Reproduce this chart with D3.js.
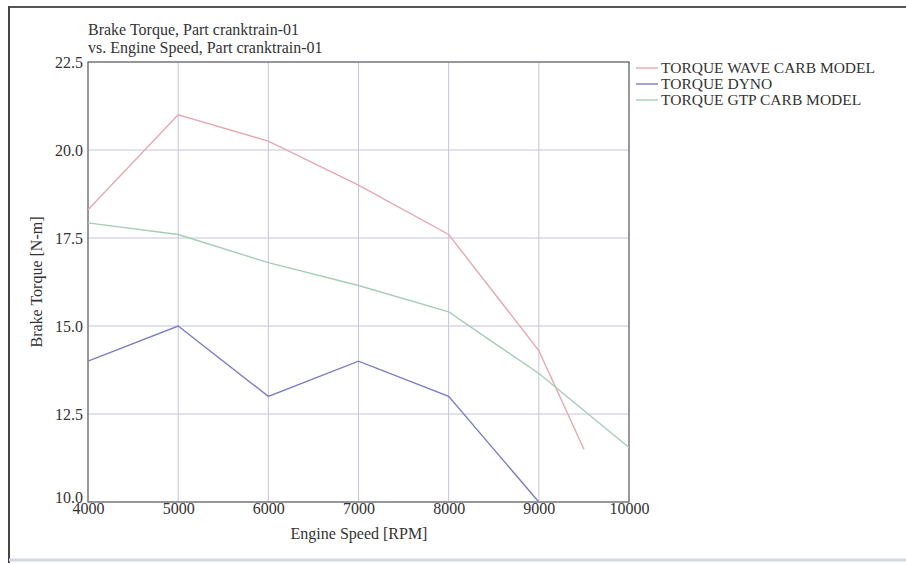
<!DOCTYPE html>
<html><head><meta charset="utf-8">
<script src="https://cdn.jsdelivr.net/npm/d3@7"></script>
<style>
body{margin:0;background:#fff;}
text{font-family:"Liberation Serif","Times New Roman",serif;fill:#333;}
</style></head>
<body><svg id="c" width="906" height="563"></svg>
<script>
const waveRpm = [4000,5000,6000,7000,8000,9000,9500];
const waveTorque = [18.3,21.0,20.25,19.0,17.6,14.3,11.5];
const dynoRpm = [4000,5000,6000,7000,8000,9000];
const dynoTorque = [14.0,15.0,13.0,14.0,13.0,10.0];
const gtpRpm = [4000,5000,6000,7000,8000,9000,10000];
const gtpTorque = [17.93,17.6,16.8,16.15,15.4,13.65,11.55];
const xTicks = [4000,5000,6000,7000,8000,9000,10000];
const yTicks = [10.0,12.5,15.0,17.5,20.0,22.5];
const seriesNames = ["TORQUE WAVE CARB MODEL","TORQUE DYNO","TORQUE GTP CARB MODEL"];
const seriesColors = ["#e6a8b0","#7c7cc4","#a6cdb6"];

const svg = d3.select("#c");
// outer frame
svg.append("line").attr("x1",8).attr("x2",906).attr("y1",7).attr("y2",7).attr("stroke","#555").attr("stroke-width",2);
svg.append("line").attr("x1",9).attr("x2",9).attr("y1",6).attr("y2",563).attr("stroke","#444").attr("stroke-width",2);
svg.append("line").attr("x1",9).attr("x2",906).attr("y1",560).attr("y2",560).attr("stroke","#d4d8e4").attr("stroke-width",3);

const L=88,R=629,T=62,B=502;
const x = d3.scaleLinear().domain([4000,10000]).range([L,R]);
const y = d3.scaleLinear().domain([10,22.5]).range([B,T]);

// grid
const g = svg.append("g");
g.selectAll(".vg").data(xTicks).join("line").attr("x1",d=>x(d)).attr("x2",d=>x(d)).attr("y1",T).attr("y2",B).attr("stroke","#c4c4da").attr("stroke-width",1);
g.selectAll(".hg").data(yTicks).join("line").attr("y1",d=>y(d)).attr("y2",d=>y(d)).attr("x1",L).attr("x2",R).attr("stroke","#c4c4da").attr("stroke-width",1);
svg.append("rect").attr("x",L).attr("y",T).attr("width",R-L).attr("height",B-T).attr("fill","none").attr("stroke","#666").attr("stroke-width",1.2);

// axes labels via d3 axis
const xAxis = svg.append("g").attr("transform",`translate(0,${B})`).call(d3.axisBottom(x).tickValues(xTicks).tickSize(0).tickPadding(1).tickFormat(d3.format("d")));
xAxis.select(".domain").remove();
xAxis.selectAll("text").style("font-size","16px").style("font-family","Liberation Serif").attr("fill","#444");
const yAxis = svg.append("g").attr("transform",`translate(${L},0)`).call(d3.axisLeft(y).tickValues(yTicks).tickSize(0).tickPadding(5).tickFormat(d3.format(".1f")));
yAxis.select(".domain").remove();
yAxis.selectAll("text").style("font-size","16px").style("font-family","Liberation Serif").attr("fill","#555");
yAxis.selectAll(".tick").filter(d=>d===10).select("text").attr("dy","0.05em");

// lines
const line = d3.line().x(d=>x(d[0])).y(d=>y(d[1]));
const data = [d3.zip(waveRpm,waveTorque), d3.zip(dynoRpm,dynoTorque), d3.zip(gtpRpm,gtpTorque)];
svg.selectAll(".ser").data(data).join("path").attr("d",line).attr("fill","none")
  .attr("stroke",(d,i)=>seriesColors[i]).attr("stroke-width",1.4);

// titles
svg.append("text").attr("x",88).attr("y",35).style("font-size","16px").text("Brake Torque, Part cranktrain-01");
svg.append("text").attr("x",88).attr("y",53).style("font-size","16px").text("vs. Engine Speed, Part cranktrain-01");
svg.append("text").attr("x",359).attr("y",539).attr("text-anchor","middle").style("font-size","16px").text("Engine Speed [RPM]");
svg.append("text").attr("transform",`translate(42,${(T+B)/2}) rotate(-90)`).attr("text-anchor","middle").style("font-size","16px").text("Brake Torque [N-m]");

// legend
const lg = svg.append("g");
seriesNames.forEach((n,i)=>{
  const yy = 68 + i*16;
  lg.append("line").attr("x1",636).attr("x2",658).attr("y1",yy).attr("y2",yy).attr("stroke",seriesColors[i]).attr("stroke-width",1.4);
  lg.append("text").attr("x",661).attr("y",yy+5).style("font-size","15.5px").attr("fill","#555").text(n);
});
</script></body></html>
